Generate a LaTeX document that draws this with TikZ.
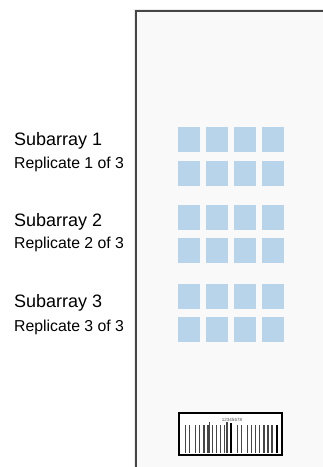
\documentclass[tikz,border=0pt]{standalone}
\usepackage{fontspec}
\setmainfont{Liberation Sans}
\definecolor{slidebg}{RGB}{249,249,249}
\definecolor{slideedge}{RGB}{70,70,70}
\definecolor{spotblue}{RGB}{184,212,234}
\definecolor{bargray}{RGB}{70,70,70}
\tikzset{
  spot/.style={fill=spotblue, draw=none},
  subtitle/.style={anchor=base west, inner sep=0pt, font=\fontsize{18}{20}\selectfont},
  reptitle/.style={anchor=base west, inner sep=0pt, font=\fontsize{15.8}{18}\selectfont},
  bar/.style={fill=bargray, draw=none},
  thickbar/.style={fill=black, draw=none}
}
\begin{document}
\begin{tikzpicture}[x=1pt,y=-1pt]
\useasboundingbox (0,0) rectangle (323,467);
\fill[white] (0,0) rectangle (323,467);
% slide shadow and body
\fill[black!8] (134,9) rectangle (323,467);
\fill[slidebg] (136,11) rectangle (323,467);
\draw[slideedge, line width=1.8pt] (136,467) -- (136,11) -- (323,11);
% labels
\node[subtitle] (s1) at (14,145) {Subarray 1};
\node[reptitle] (r1) at (14,168) {Replicate 1 of 3};
\node[subtitle] (s2) at (14,226) {Subarray 2};
\node[reptitle] (r2) at (14,248) {Replicate 2 of 3};
\node[subtitle] (s3) at (14,307) {Subarray 3};
\node[reptitle] (r3) at (14,331) {Replicate 3 of 3};
% spots
\foreach \y in {127,161,205,238,284,317}{
  \foreach \x in {178,206,234,262}{
    \fill[spot] (\x,\y) rectangle ++(22,25);
  }
}
% barcode
\node[draw=black, line width=1.3pt, minimum width=103pt, minimum height=42pt, inner sep=0pt, fill=white] (bc) at (230.5,434) {};
\node[inner sep=0pt, font=\fontsize{4.5}{4.5}\selectfont, text=black!70] (bcnum) at (232,419.5) {12345678};
\foreach \x in {184.5,188.5,194.5,198.5,203,207,211.5,215.5,219.5,223.5,236.5,240.5,246.5,250.5,254.5,258.5,263,267,271}{
  \fill[bar] (\x,425) rectangle ++(1.9,28);
}
\foreach \x in {208.5,226}{
  \fill[bar] (\x,422) rectangle ++(1.9,31);
}
\fill[thickbar] (229.5,423) rectangle ++(2.4,30);
\fill[thickbar] (275.5,425) rectangle ++(2.6,28);
\end{tikzpicture}
\end{document}
